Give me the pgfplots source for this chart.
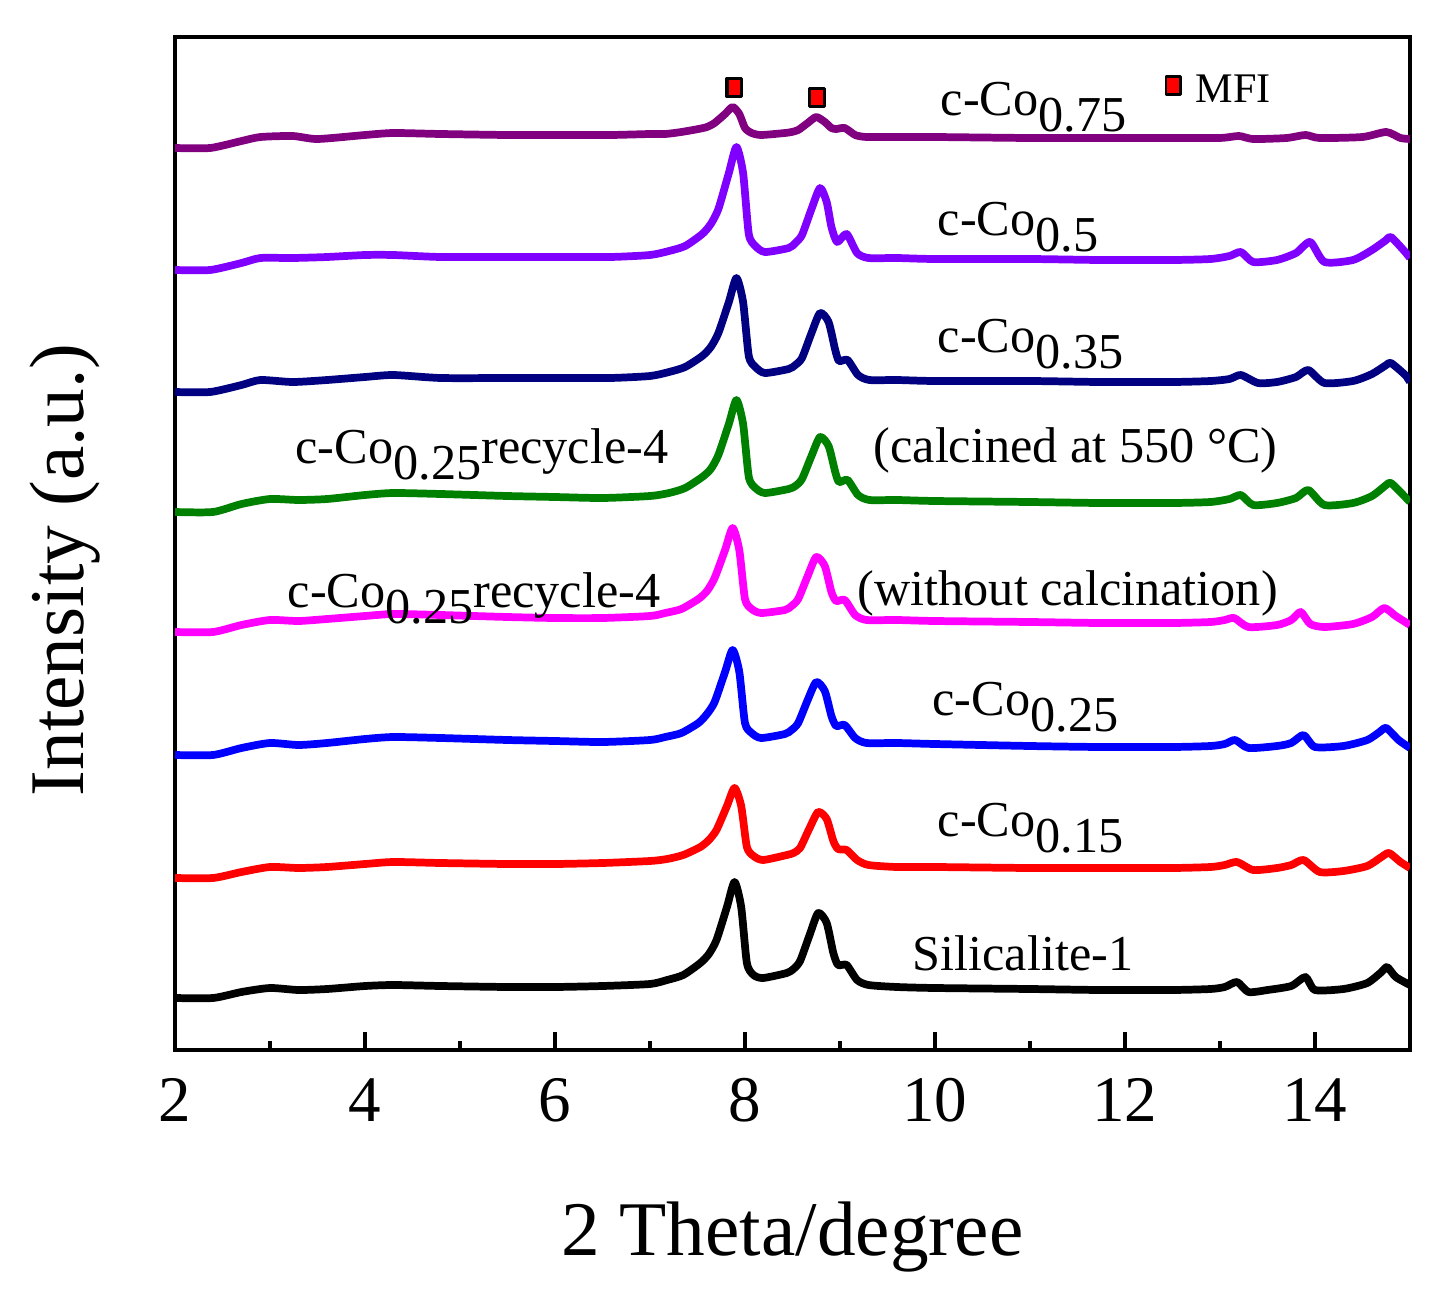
\documentclass[border=0pt]{standalone}
\usepackage{fontspec}
\setmainfont{Liberation Serif}
\usepackage{pgfplots}
\pgfplotsset{compat=1.18}
\definecolor{cpurple}{RGB}{128,0,128}
\definecolor{cviolet}{RGB}{128,0,255}
\definecolor{cnavy}{RGB}{0,0,128}
\definecolor{cgreen}{RGB}{0,128,0}
\definecolor{cmagenta}{RGB}{255,0,255}
\definecolor{cblue}{RGB}{0,0,255}
\definecolor{cred}{RGB}{255,0,0}
\newcommand{\lbl}{\fontsize{14.3}{16}\selectfont}
\newcommand{\sub}[1]{\raisebox{-4.8pt}{#1}}
\begin{document}
\begin{tikzpicture}
\path[use as bounding box] (-17.5mm,-24.2mm) rectangle (126.4mm,105mm);
\begin{axis}[
  at={(0,0)}, anchor=south west, scale only axis,
  width=123.5mm, height=101.3mm,
  xmin=2, xmax=15, ymin=0, ymax=1013,
  xtick={2,4,...,14}, minor xtick={3,5,...,13}, ytick=\empty,
  tick align=inside, xtick pos=lower,
  major tick length=1.8mm, minor tick length=0.9mm,
  axis line style={line width=1.1pt},
  tick style={line width=1.1pt, black},
  /pgf/number format/assume math mode=true,
  xticklabel style={font=\fontsize{18.5}{20}\selectfont, yshift=-4.5pt},
  xlabel={2 Theta/degree}, ylabel={Intensity (a.u.)},
  label style={font=\fontsize{22}{26}\selectfont},
  xlabel style={at={(axis description cs:0.5,-0.2024)}, anchor=base},
  ylabel style={at={(axis description cs:-0.089,0.474)}, anchor=center},
  every axis plot/.append style={line width=2.2pt, smooth, tension=0.4, line join=round},
]
% Silicalite-1
\addplot[black] coordinates {(2,52)(2.4,52)(2.7,58)(3.0,62)(3.3,60)(3.6,61)(4.0,64)(4.3,65)(4.8,64)(5.5,63)(6.0,63)(6.5,64)(7.0,66)(7.18,70)(7.35,75)(7.53,87)(7.62,96)(7.70,110)(7.81,143)(7.89,168)(7.96,143)(8.02,87)(8.09,75)(8.19,72)(8.44,77)(8.51,81)(8.58,89)(8.68,115)(8.77,137)(8.86,127)(8.93,97)(8.98,85)(9.07,85)(9.18,70)(9.30,65)(9.6,63)(10,62)(11,61)(11.74,60)(12.5,60)(12.9,61)(13.05,63)(13.18,68)(13.3,58)(13.5,60)(13.75,64)(13.9,73)(14.0,60)(14.3,61)(14.55,67)(14.7,78)(14.76,83)(14.85,73)(15,65)};
% c-Co0.15
\addplot[cred] coordinates {(2,172)(2.4,172)(2.7,178)(3.0,183)(3.3,182)(3.6,183)(4.0,186)(4.3,188)(4.8,187)(5.5,186)(6.0,186)(6.5,187)(7.0,189)(7.18,191)(7.35,195)(7.53,203)(7.62,210)(7.70,220)(7.81,244)(7.89,262)(7.96,244)(8.02,203)(8.09,194)(8.19,190)(8.44,195)(8.51,197)(8.58,202)(8.68,222)(8.77,238)(8.86,231)(8.93,209)(8.98,201)(9.07,200)(9.18,190)(9.30,185)(9.6,183)(10,183)(11,182)(11.74,182)(12.5,182)(12.9,183)(13.05,185)(13.18,188)(13.35,180)(13.6,182)(13.75,185)(13.88,190)(14.05,178)(14.3,179)(14.55,184)(14.7,193)(14.78,197)(14.9,188)(15,182)};
% c-Co0.25
\addplot[cblue] coordinates {(2,295)(2.4,295)(2.7,302)(3.0,307)(3.3,305)(3.6,307)(4.0,311)(4.3,313)(4.8,312)(5.5,310)(6.0,309)(6.5,308)(7.0,310)(7.16,313)(7.33,317)(7.51,327)(7.60,336)(7.68,348)(7.79,378)(7.87,400)(7.94,378)(8.00,327)(8.07,317)(8.17,312)(8.42,316)(8.49,320)(8.56,327)(8.66,350)(8.75,368)(8.84,359)(8.91,334)(8.96,324)(9.05,325)(9.16,312)(9.28,307)(9.6,307)(10,306)(11,304)(11.74,303)(12.5,303)(12.9,304)(13.05,306)(13.16,310)(13.3,302)(13.6,304)(13.75,307)(13.88,315)(14.0,303)(14.3,304)(14.55,310)(14.68,318)(14.75,322)(14.88,310)(15,302)};
% recycle without calcination
\addplot[cmagenta] coordinates {(2,418)(2.4,418)(2.7,425)(3.0,430)(3.3,429)(3.6,431)(4.0,434)(4.3,436)(4.8,435)(5.5,433)(6.0,432)(6.5,432)(7.0,434)(7.16,437)(7.33,441)(7.51,451)(7.60,459)(7.68,472)(7.79,500)(7.87,522)(7.94,500)(8.00,451)(8.07,441)(8.17,437)(8.42,440)(8.49,444)(8.56,451)(8.66,474)(8.75,493)(8.84,484)(8.91,458)(8.96,449)(9.05,450)(9.16,435)(9.28,430)(9.6,430)(10,429)(11,428)(11.74,427)(12.5,427)(12.9,428)(13.05,430)(13.15,432)(13.3,423)(13.6,425)(13.75,430)(13.85,438)(13.95,426)(14.1,423)(14.4,426)(14.6,433)(14.73,442)(14.85,434)(15,425)};
% recycle calcined
\addplot[cgreen] coordinates {(2,538)(2.4,538)(2.7,546)(3.0,551)(3.3,550)(3.6,551)(4.0,555)(4.3,557)(4.8,556)(5.5,554)(6.0,553)(6.5,552)(7.0,554)(7.20,557)(7.37,562)(7.55,573)(7.64,581)(7.72,595)(7.83,626)(7.91,650)(7.98,626)(8.04,573)(8.11,562)(8.21,557)(8.46,561)(8.53,564)(8.60,571)(8.70,594)(8.79,613)(8.88,604)(8.95,578)(8.99,568)(9.08,570)(9.19,555)(9.31,550)(9.6,550)(10,549)(11,548)(11.74,547)(12.5,547)(12.9,548)(13.1,551)(13.22,555)(13.35,545)(13.6,547)(13.8,552)(13.93,560)(14.1,545)(14.4,547)(14.6,554)(14.75,565)(14.8,567)(14.95,553)(15,548)};
% c-Co0.35
\addplot[cnavy] coordinates {(2,658)(2.37,658)(2.7,665)(2.9,670)(3.24,668)(3.6,670)(4.0,673)(4.3,675)(4.8,672)(5.5,672)(6.0,672)(6.58,672)(7.0,674)(7.20,678)(7.37,683)(7.55,694)(7.64,703)(7.72,717)(7.83,748)(7.91,772)(7.98,748)(8.04,694)(8.11,683)(8.21,677)(8.46,681)(8.53,685)(8.60,692)(8.70,717)(8.79,737)(8.88,728)(8.95,700)(8.99,689)(9.08,690)(9.19,675)(9.31,670)(9.6,670)(10,669)(11,669)(11.74,668)(12.5,668)(12.9,669)(13.1,671)(13.22,675)(13.4,667)(13.6,668)(13.8,673)(13.93,680)(14.1,667)(14.4,669)(14.6,676)(14.75,685)(14.8,687)(14.95,675)(15,668)};
% c-Co0.5
\addplot[cviolet] coordinates {(2,780)(2.37,780)(2.7,787)(2.9,792)(3.24,792)(3.6,793)(4.0,795)(4.3,795)(4.8,793)(5.5,793)(6.0,793)(6.58,793)(7.0,795)(7.20,799)(7.37,804)(7.55,816)(7.64,826)(7.72,841)(7.83,877)(7.91,903)(7.98,877)(8.04,816)(8.11,804)(8.21,798)(8.46,802)(8.53,807)(8.60,815)(8.70,841)(8.79,862)(8.86,848)(8.91,823)(8.97,808)(9.07,816)(9.18,797)(9.30,792)(9.6,792)(10,791)(11,791)(11.74,790)(12.5,790)(12.9,791)(13.1,794)(13.22,798)(13.35,788)(13.6,790)(13.8,797)(13.95,808)(14.1,788)(14.4,790)(14.6,800)(14.75,810)(14.8,813)(14.95,798)(15,792)};
% c-Co0.75
\addplot[cpurple] coordinates {(2,902)(2.37,902)(2.7,909)(2.9,913)(3.24,914)(3.5,911)(4.0,915)(4.3,917)(4.8,916)(5.5,915)(6.0,915)(6.58,915)(7.0,916)(7.16,916)(7.33,918)(7.51,921)(7.60,923)(7.68,927)(7.79,936)(7.87,943)(7.94,936)(8.00,922)(8.07,917)(8.17,915)(8.42,917)(8.49,918)(8.56,920)(8.66,927)(8.75,933)(8.84,928)(8.91,922)(8.96,921)(9.05,922)(9.16,915)(9.28,913)(9.6,913)(10,913)(11,912)(11.74,912)(12.5,912)(13.0,912)(13.2,914)(13.35,911)(13.7,912)(13.9,915)(14.05,912)(14.5,913)(14.75,918)(14.9,912)(15,911)};
% MFI markers
\addplot[only marks, mark=square*, mark size=2.1pt, mark options={fill=cred, draw=black, line width=0.9pt, yscale=1.24}] coordinates {(7.889,962.5)(8.758,952.5)};
\addplot[only marks, mark=square*, mark size=2.1pt, mark options={fill=cred, draw=black, line width=0.8pt, yscale=1.24}] coordinates {(12.51,964.5)};
\node[anchor=base west, inner sep=0, font=\fontsize{12}{14}\selectfont] at (axis cs:12.737,948) {MFI};
% labels
\node[anchor=base west, inner sep=0, font=\lbl] at (axis cs:10.053,935) {c-Co\sub{0.75}};
\node[anchor=base west, inner sep=0, font=\lbl] at (axis cs:10.021,815) {c-Co\sub{0.5}};
\node[anchor=base west, inner sep=0, font=\lbl] at (axis cs:10.021,698) {c-Co\sub{0.35}};
\node[anchor=base west, inner sep=0, font=\lbl] at (axis cs:3.263,587) {c-Co\sub{0.25}recycle-4};
\node[anchor=base west, inner sep=0, font=\lbl] at (axis cs:9.347,588) {(calcined at 550 °C)};
\node[anchor=base west, inner sep=0, font=\lbl] at (axis cs:3.179,443) {c-Co\sub{0.25}recycle-4};
\node[anchor=base west, inner sep=0, font=\lbl] at (axis cs:9.179,445) {(without calcination)};
\node[anchor=base west, inner sep=0, font=\lbl] at (axis cs:9.968,335) {c-Co\sub{0.25}};
\node[anchor=base west, inner sep=0, font=\lbl] at (axis cs:10.021,214) {c-Co\sub{0.15}};
\node[anchor=base west, inner sep=0, font=\lbl] at (axis cs:9.758,80) {Silicalite-1};
\end{axis}
\end{tikzpicture}
\end{document}
